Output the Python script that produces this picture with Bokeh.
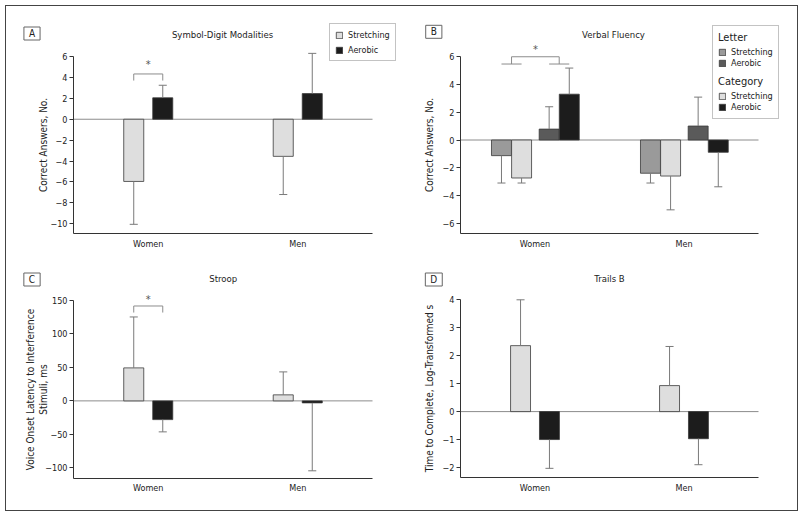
import numpy as np
from bokeh.plotting import figure
from bokeh.layouts import column, row
from bokeh.models import Range1d, FixedTicker, Label, Legend, LegendItem
from bokeh.core.properties import value
from bokeh.embed import file_html
from bokeh.resources import INLINE

# ---------------- data ----------------
groups = ["Women", "Men"]
group_pos = [1, 2]

# A: Symbol-Digit Modalities (change in correct answers)
sdm_stretching = [-5.95, -3.55]
sdm_stretching_err = [-10.05, -7.2]
sdm_aerobic = [2.05, 2.45]
sdm_aerobic_err = [3.25, 6.3]
sdm_ticks = [-10, -8, -6, -4, -2, 0, 2, 4, 6]

# B: Verbal Fluency
vf_letter_stretching = [-1.12, -2.38]
vf_letter_stretching_err = [-3.08, -3.08]
vf_category_stretching = [-2.72, -2.58]
vf_category_stretching_err = [-3.08, -5.0]
vf_letter_aerobic = [0.78, 1.0]
vf_letter_aerobic_err = [2.38, 3.07]
vf_category_aerobic = [3.28, -0.88]
vf_category_aerobic_err = [5.15, -3.35]
vf_ticks = [-6, -4, -2, 0, 2, 4, 6]

# C: Stroop
stroop_stretching = [49.3, 9.0]
stroop_stretching_err = [125.4, 43.3]
stroop_aerobic = [-28.0, -3.0]
stroop_aerobic_err = [-46.3, -104.5]
stroop_ticks = [-100, -50, 0, 50, 100, 150]

# D: Trails B
trails_stretching = [2.36, 0.93]
trails_stretching_err = [4.0, 2.33]
trails_aerobic = [-1.0, -0.97]
trails_aerobic_err = [-2.03, -1.9]
trails_ticks = [-2, -1, 0, 1, 2, 3, 4]

# significance brackets (y of bracket top, y of legs, y of asterisk)
sig_a = [4.33, 3.7, 5.2]
sig_b = [5.96, 5.44, 6.45]
sig_c = [141.8, 132.0, 152.0]

# ---------------- style ----------------
FONT = "DejaVu Sans Condensed, Roboto, sans-serif"
C_LIGHT = "#dedede"
C_MID = "#9a9a9a"
C_DARK = "#5a5a5a"
C_BLACK = "#1c1c1c"
C_EDGE = "#3a3a3a"
C_ERR = "#7a7a7a"
C_AXIS = "#333333"
TXT = "#222222"
BAR_W = 0.134
CAP = 0.027


def make_panel(W, H, ox, oy, ax_l, ax_r, ax_b, t_hi, px_hi, t_lo, px_lo, ticks,
               ylabel, ylabel_standoff):
    """Panel whose frame fills the whole figure; axes are pinned with fixed_location."""
    kx = (ax_r - ax_l) / 2.0
    x0 = 0.5 - (ax_l - ox) / kx
    x1 = 2.5 + (ox + W - ax_r) / kx
    ky = (px_lo - px_hi) / float(t_hi - t_lo)
    y1 = t_hi + (px_hi - oy) / ky
    y0 = t_hi - (oy + H - px_hi) / ky
    y_axis_bottom = t_hi - (ax_b - px_hi) / ky

    p = figure(width=W, height=H, x_range=Range1d(x0, x1), y_range=Range1d(y0, y1),
               output_backend="svg", toolbar_location=None, min_border=0)
    p.outline_line_color = None
    p.xgrid.visible = False
    p.ygrid.visible = False

    xa = p.xaxis[0]
    xa.fixed_location = y_axis_bottom
    xa.bounds = (0.5, 2.5)
    xa.ticker = FixedTicker(ticks=group_pos)
    xa.major_label_overrides = {g: n for g, n in zip(group_pos, groups)}
    xa.major_tick_out = 0
    xa.major_tick_in = 0
    xa.minor_tick_out = 0
    xa.minor_tick_in = 0
    xa.axis_line_color = C_AXIS
    xa.major_label_text_font = FONT
    xa.major_label_text_font_size = "9px"
    xa.major_label_text_color = TXT
    xa.major_label_standoff = 5

    ya = p.yaxis[0]
    ya.fixed_location = 0.5
    ya.ticker = FixedTicker(ticks=ticks)
    ya.major_label_overrides = {t: str(t).replace("-", "\u2212") for t in ticks}
    ya.bounds = (y_axis_bottom, max(ticks))
    ya.major_tick_out = 4
    ya.major_tick_in = 0
    ya.minor_tick_out = 0
    ya.minor_tick_in = 0
    ya.major_tick_line_color = C_AXIS
    ya.axis_line_color = C_AXIS
    ya.major_label_text_font = FONT
    ya.major_label_text_font_size = "9px"
    ya.major_label_text_color = TXT
    ya.major_label_standoff = 2
    ya.axis_label = ylabel
    ya.axis_label_text_font = FONT
    ya.axis_label_text_font_size = "10px"
    ya.axis_label_text_font_style = "normal"
    ya.axis_label_text_color = TXT
    ya.axis_label_standoff = ylabel_standoff

    p.segment(x0=[0.5], y0=[0], x1=[2.5], y1=[0], line_color="#8c8c8c", line_width=1)
    return p


def add_series(p, offset, vals, errs, color):
    xs = [g + offset for g in group_pos]
    r = p.vbar(x=xs, width=BAR_W, bottom=0, top=vals, fill_color=color,
               line_color=C_EDGE, line_width=0.8)
    p.segment(x0=xs, y0=vals, x1=xs, y1=errs, line_color=C_ERR, line_width=1)
    p.segment(x0=[x - CAP for x in xs], y0=errs, x1=[x + CAP for x in xs], y1=errs,
              line_color=C_ERR, line_width=1)
    return r


def add_titles(p, letter, title, lx, ly, tx, ty):
    p.add_layout(Label(x=lx, y=ly, x_units="screen", y_units="screen", text=letter,
                       text_font=FONT, text_font_size="10px", text_color=TXT,
                       text_align="center", text_baseline="middle",
                       border_line_color="#666666", background_fill_color="white",
                       padding=(5, 1)))
    p.add_layout(Label(x=tx, y=ty, x_units="screen", y_units="screen", text=title,
                       text_font=FONT, text_font_size="9.5px", text_color=TXT,
                       text_align="center", text_baseline="middle"))


def add_bracket(p, xa, xb, sig):
    top, leg, star = sig
    p.multi_line(xs=[[xa, xa, xb, xb]], ys=[[leg, top, top, leg]],
                 line_color="#8c8c8c", line_width=1)
    p.text(x=[(xa + xb) / 2], y=[star], text=["*"], text_font=value(FONT),
           text_font_size="11px", text_color="#555555", text_align="center",
           text_baseline="middle")


def style_legend(lg, framed=True):
    lg.label_text_font = FONT
    lg.label_text_font_size = "9px"
    lg.label_text_color = TXT
    lg.glyph_width = 8
    lg.glyph_height = 8
    lg.label_height = 11
    lg.label_standoff = 5
    lg.margin = 0
    lg.title_text_font = FONT
    lg.title_text_font_size = "11px"
    lg.title_text_font_style = "normal"
    lg.title_text_color = TXT
    lg.title_standoff = 3
    if framed:
        lg.border_line_color = "#888888"
        lg.background_fill_color = "white"
        lg.background_fill_alpha = 1
    else:
        lg.border_line_color = None
        lg.background_fill_alpha = 0


# layout geometry (page pixels): inner area x 6..797, y 6..510
LW, RW = 394, 397
TH, BH = 249, 255

# ---------------- panel A ----------------
pA = make_panel(LW, TH, 6, 6, 73, 372, 233, 6, 56, -10, 223.3, sdm_ticks,
                "Correct Answers, No.", -2)
rA1 = add_series(pA, -0.097, sdm_stretching, sdm_stretching_err, C_LIGHT)
rA2 = add_series(pA, 0.097, sdm_aerobic, sdm_aerobic_err, C_BLACK)
add_bracket(pA, group_pos[0] - 0.097, group_pos[0] + 0.097, sig_a)
add_titles(pA, "A", "Symbol-Digit Modalities", 25.5, 222, 216, 221)
lgA = Legend(items=[LegendItem(label="Stretching", renderers=[rA1]),
                    LegendItem(label="Aerobic", renderers=[rA2])],
             location=(323, 194), spacing=4, padding=5)
style_legend(lgA)
pA.add_layout(lgA)

# ---------------- panel B ----------------
pB = make_panel(RW, TH, 400, 6, 460, 758, 233, 6, 55.7, -6, 223.3, vf_ticks,
                "Correct Answers, No.", 5)
offs_b = [-0.225, -0.09, 0.095, 0.23]
rB1 = add_series(pB, offs_b[0], vf_letter_stretching, vf_letter_stretching_err, C_MID)
rB2 = add_series(pB, offs_b[1], vf_category_stretching, vf_category_stretching_err, C_LIGHT)
rB3 = add_series(pB, offs_b[2], vf_letter_aerobic, vf_letter_aerobic_err, C_DARK)
rB4 = add_series(pB, offs_b[3], vf_category_aerobic, vf_category_aerobic_err, C_BLACK)
w0 = group_pos[0]
pB.segment(x0=[w0 + offs_b[0], w0 + offs_b[2]], y0=[sig_b[1]] * 2,
           x1=[w0 + offs_b[1], w0 + offs_b[3]], y1=[sig_b[1]] * 2,
           line_color="#8c8c8c", line_width=1)
add_bracket(pB, w0 + (offs_b[0] + offs_b[1]) / 2, w0 + (offs_b[2] + offs_b[3]) / 2, sig_b)
add_titles(pB, "B", "Verbal Fluency", 33.3, 223.7, 213, 221)
spacer = pB.vbar(x=[], width=BAR_W, top=[], fill_alpha=0, line_alpha=0)
# framed legend: "Letter" group, with empty rows reserved for the "Category" group
lgB1 = Legend(items=[LegendItem(label="Stretching", renderers=[rB1]),
                     LegendItem(label="Aerobic", renderers=[rB3]),
                     LegendItem(label=" ", renderers=[spacer]),
                     LegendItem(label=" ", renderers=[spacer]),
                     LegendItem(label=" ", renderers=[spacer]),
                     LegendItem(label=" ", renderers=[spacer])],
              location=(312, 136.5), spacing=0, padding=5, title="Letter")
style_legend(lgB1)
pB.add_layout(lgB1)
# unframed legend for the "Category" group, overlaid on the reserved rows
lgB2 = Legend(items=[LegendItem(label="Stretching", renderers=[rB2]),
                     LegendItem(label="Aerobic", renderers=[rB4])],
              location=(318, 142.5), spacing=0, padding=5, title="Category")
style_legend(lgB2, framed=False)
pB.add_layout(lgB2)

# ---------------- panel C ----------------
pC = make_panel(LW, BH, 6, 255, 73, 372, 477.7, 150, 300, -100, 467.3, stroop_ticks,
                "Voice Onset Latency to Interference\nStimuli, ms", -7)
add_series(pC, -0.097, stroop_stretching, stroop_stretching_err, C_LIGHT)
add_series(pC, 0.097, stroop_aerobic, stroop_aerobic_err, C_BLACK)
add_bracket(pC, group_pos[0] - 0.097, group_pos[0] + 0.097, sig_c)
add_titles(pC, "C", "Stroop", 25.5, 231, 216.7, 231.7)

# ---------------- panel D ----------------
pD = make_panel(RW, BH, 400, 255, 460, 758, 477, 4, 299.3, -2, 467, trails_ticks,
                "Time to Complete, Log-Transformed s", 5)
add_series(pD, -0.097, trails_stretching, trails_stretching_err, C_LIGHT)
add_series(pD, 0.097, trails_aerobic, trails_aerobic_err, C_BLACK)
add_titles(pD, "D", "Trails B", 33.3, 231, 209, 232.3)

layout = column(row(pA, pB), row(pC, pD), margin=(5, 5, 5, 5),
                styles={"border": "1px solid #444444"})

open("out.html", "w").write(file_html(layout, INLINE))
